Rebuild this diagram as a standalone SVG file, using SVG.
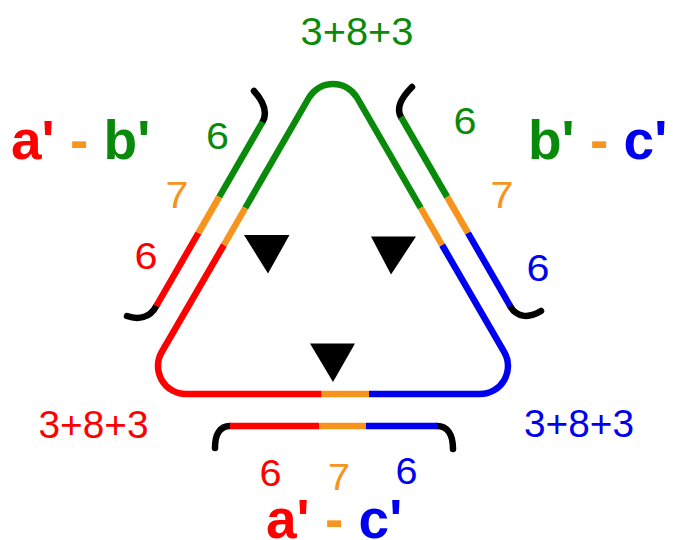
<svg xmlns="http://www.w3.org/2000/svg" width="673" height="540" viewBox="0 0 673 540">
<style>
.ln{fill:none;stroke-width:6.5;stroke-linecap:butt;stroke-linejoin:round}
.hk{fill:none;stroke:#000;stroke-width:6.5;stroke-linecap:round}
.g{stroke:#0a8a0a}.r{stroke:#f00}.o{stroke:#f7941d}.b{stroke:#0000f0}
.num{font-family:"Liberation Sans",Arial,sans-serif;font-size:36px;text-anchor:middle}
.sum{font-family:"Liberation Sans",Arial,sans-serif;font-size:38px;text-anchor:middle}
.big{font-family:"Liberation Sans",Arial,sans-serif;font-size:55px;font-weight:bold;white-space:pre}
.tf-g{fill:#0a8a0a}.tf-r{fill:#f00}.tf-o{fill:#f7941d}.tf-b{fill:#0000f0}
.tri{fill:#000}
</style>
<rect width="673" height="540" fill="#fff"/>
<g id="connectors">
  <g id="triangle">
    <path class="ln g" d="M245.25,208 L308.75,98 A28,28 0 0 1 357.25,98 L420.75,208"/>
    <path class="ln o" d="M245.25,208 L223.9,245"/>
    <path class="ln r" d="M223.9,245 L161.75,352 A28,28 0 0 0 186,394 L321.7,394"/>
    <path class="ln o" d="M321.7,394 L369,394"/>
    <path class="ln b" d="M369,394 L480,394 A28,28 0 0 0 504.25,352 L442.1,245"/>
    <path class="ln o" d="M442.1,245 L420.75,208"/>
  </g>
  <g id="bracket-ab">
    <path class="hk" d="M262.5,122 Q270,109 254,91"/>
    <path class="hk" d="M156.3,306 C150,318 138,320 127,316"/>
    <path class="ln g" d="M262.5,122 L219.2,197"/>
    <path class="ln o" d="M219.2,197 L198.4,233"/>
    <path class="ln r" d="M198.4,233 L156.3,306"/>
  </g>
  <g id="bracket-bc">
    <path class="hk" d="M401,117 Q394,105 412,87"/>
    <path class="hk" d="M510.1,306 C516,317 528,319 541,311"/>
    <path class="ln g" d="M401,117 L447.2,197"/>
    <path class="ln o" d="M447.2,197 L468,233"/>
    <path class="ln b" d="M468,233 L510.1,306"/>
  </g>
  <g id="bracket-ac">
    <path class="hk" d="M230,426 C220,426 215,434 215,448"/>
    <path class="hk" d="M437,426 C447,426 453,434 453,449"/>
    <path class="ln r" d="M230,426 L319,426"/>
    <path class="ln o" d="M319,426 L366,426"/>
    <path class="ln b" d="M366,426 L437,426"/>
  </g>
</g>
<g id="arrows">
  <polygon class="tri" points="244,235 289.5,235 268,273.5"/>
  <polygon class="tri" points="371,236.5 416,236.5 391,274.5"/>
  <polygon class="tri" points="310,343.5 355,343.5 333,382"/>
</g>
<g id="label-top"><text class="sum tf-g" x="357" y="45" textLength="113" lengthAdjust="spacingAndGlyphs">3+8+3</text></g>
<g id="label-left-sum"><text class="sum tf-r" x="93.5" y="438" textLength="110" lengthAdjust="spacingAndGlyphs">3+8+3</text></g>
<g id="label-right-sum"><text class="sum tf-b" x="579" y="437" textLength="110" lengthAdjust="spacingAndGlyphs">3+8+3</text></g>
<g id="node-ab">
  <text class="big" x="11" y="159"><tspan class="tf-r">a'</tspan><tspan class="tf-o"> - </tspan><tspan class="tf-g">b'</tspan></text>
  <text class="num tf-g" x="217.5" y="149" textLength="23" lengthAdjust="spacingAndGlyphs">6</text>
  <text class="num tf-o" x="177" y="208" textLength="23" lengthAdjust="spacingAndGlyphs">7</text>
  <text class="num tf-r" x="146" y="269" textLength="23" lengthAdjust="spacingAndGlyphs">6</text>
</g>
<g id="node-bc">
  <text class="big" x="528" y="159"><tspan class="tf-g">b'</tspan><tspan class="tf-o"> - </tspan><tspan class="tf-b">c'</tspan></text>
  <text class="num tf-g" x="465" y="134" textLength="23" lengthAdjust="spacingAndGlyphs">6</text>
  <text class="num tf-o" x="502" y="208" textLength="23" lengthAdjust="spacingAndGlyphs">7</text>
  <text class="num tf-b" x="538" y="281" textLength="23" lengthAdjust="spacingAndGlyphs">6</text>
</g>
<g id="node-ac">
  <text class="big" x="266" y="538"><tspan class="tf-r">a'</tspan><tspan class="tf-o"> - </tspan><tspan class="tf-b">c'</tspan></text>
  <text class="num tf-r" x="270.5" y="486" textLength="22" lengthAdjust="spacingAndGlyphs">6</text>
  <text class="num tf-o" x="339" y="490" textLength="22" lengthAdjust="spacingAndGlyphs">7</text>
  <text class="num tf-b" x="406.5" y="484" textLength="22" lengthAdjust="spacingAndGlyphs">6</text>
</g>
</svg>
